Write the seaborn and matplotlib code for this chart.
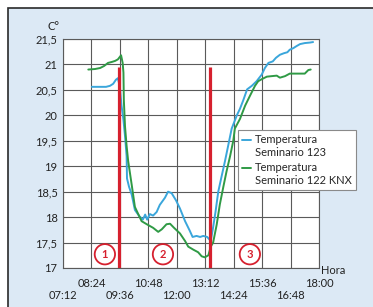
import numpy as np
import pandas as pd
import matplotlib.pyplot as plt
import seaborn as sns
from matplotlib.patches import Rectangle
from matplotlib.legend_handler import HandlerLine2D

# ---- data ----
blue_time = ['08:25', '08:46', '09:01', '09:11', '09:19', '09:26', '09:31', '09:36', '09:40',
             '09:45', '09:49', '09:53', '09:54', '09:59', '10:06', '10:14', '10:25', '10:34',
             '10:40', '10:45', '10:52', '11:00', '11:09', '11:17', '11:30', '11:38', '11:47',
             '11:58', '12:08', '12:21', '12:33', '12:40', '12:50', '12:59', '13:07', '13:17',
             '13:26', '13:32', '13:38', '13:45', '13:54', '14:02', '14:10', '14:19', '14:32',
             '14:40', '14:48', '14:58', '15:10', '15:22', '15:35', '15:43', '15:52', '16:03',
             '16:11', '16:21', '16:31', '16:40', '16:46', '16:55', '17:03', '17:12', '17:24',
             '17:37', '17:45']
blue_temp = [20.56, 20.56, 20.56, 20.58, 20.62, 20.70, 20.73, 20.55, 20.20,
             19.91, 19.59, 19.20, 18.76, 18.60, 18.44, 18.14, 18.02, 17.95,
             18.05, 17.95, 18.06, 18.03, 18.10, 18.24, 18.38, 18.50, 18.47,
             18.33, 18.17, 17.92, 17.73, 17.61, 17.63, 17.61, 17.63, 17.61,
             17.53, 17.80, 18.10, 18.50, 18.82, 19.10, 19.40, 19.74, 20.00,
             20.13, 20.29, 20.51, 20.58, 20.67, 20.80, 20.93, 21.03, 21.06,
             21.13, 21.19, 21.22, 21.24, 21.29, 21.32, 21.36, 21.40, 21.42,
             21.43, 21.44]

green_time = ['08:16', '08:33', '08:46', '08:56', '09:06', '09:16', '09:24', '09:31', '09:39',
              '09:43', '09:45', '09:46', '09:49', '09:53', '09:57', '10:06', '10:14', '10:23',
              '10:31', '10:44', '11:00', '11:13', '11:22', '11:34', '11:43', '11:53', '12:08',
              '12:21', '12:29', '12:42', '12:54', '13:03', '13:11', '13:20', '13:26', '13:32',
              '13:41', '13:49', '13:58', '14:06', '14:15', '14:23', '14:27', '14:40', '14:53',
              '15:05', '15:18', '15:26', '15:35', '15:48', '16:00', '16:13', '16:21', '16:34',
              '16:46', '17:03', '17:24', '17:33', '17:39']
green_temp = [20.90, 20.91, 20.93, 20.97, 21.03, 21.05, 21.07, 21.10, 21.18,
              21.03, 20.84, 20.30, 19.78, 19.40, 19.10, 18.63, 18.20, 18.05,
              17.92, 17.86, 17.79, 17.71, 17.76, 17.86, 17.87, 17.79, 17.68,
              17.53, 17.42, 17.36, 17.31, 17.23, 17.21, 17.25, 17.42, 17.50,
              17.85, 18.25, 18.60, 18.90, 19.20, 19.50, 19.74, 19.93, 20.19,
              20.38, 20.58, 20.67, 20.71, 20.76, 20.77, 20.78, 20.74, 20.77,
              20.82, 20.82, 20.82, 20.89, 20.90]

series_names = ['Temperatura\nSeminario 123', 'Temperatura\nSeminario 122 KNX']
red_times = ['09:35', '13:23']
red_top = 20.95
phase_labels = ['1', '2', '3']
phase_times = ['08:58', '11:25', '15:05']
phase_temp = 17.27

x_ticks = ['07:12', '08:24', '09:36', '10:48', '12:00', '13:12', '14:24', '15:36', '16:48', '18:00']
y_ticks = [17, 17.5, 18, 18.5, 19, 19.5, 20, 20.5, 21, 21.5]


def to_min(s):
    h, m = s.split(':')
    return int(h) * 60 + int(m)


df = pd.concat([
    pd.DataFrame({'t': [to_min(s) for s in blue_time], 'temp': blue_temp, 'serie': series_names[0]}),
    pd.DataFrame({'t': [to_min(s) for s in green_time], 'temp': green_temp, 'serie': series_names[1]}),
])

sns.set_theme(style='white')
plt.rcParams['font.family'] = ['Lato', 'DejaVu Sans']

BG = '#dce9f5'
GRID = '#5a5a5a'
RED = '#d6202e'
palette = {series_names[0]: '#3aa6db', series_names[1]: '#2f9a45'}

fig = plt.figure(figsize=(3.73, 3.07), dpi=100, facecolor='white')
fig.add_artist(Rectangle((7.5 / 373, -0.1), 1.2, 1.1 - 8 / 307, transform=fig.transFigure,
                         facecolor=BG, edgecolor='#2a2a2a', lw=1.2, zorder=-1))

ax = fig.add_axes([63 / 373, 39 / 307, 256 / 373, 229 / 307])
ax.set_facecolor('white')

sns.lineplot(data=df, x='t', y='temp', hue='serie', palette=palette, estimator=None,
             sort=False, lw=1.4, legend=False, ax=ax, zorder=3)

ax.vlines([to_min(s) for s in red_times], 17, red_top, color=RED, lw=2.3, zorder=4)

# circled phase numbers
for lab, t in zip(phase_labels, phase_times):
    ax.text(to_min(t), phase_temp, lab, ha='center', va='center', fontsize=8, color=RED,
            fontweight='bold', zorder=5,
            bbox=dict(boxstyle='circle,pad=0.42', fc='white', ec=RED, lw=1.3))

xt = [to_min(s) for s in x_ticks]
ax.set_xlim(xt[0], xt[-1])
ax.set_ylim(17, 21.5)
ax.set_xticks(xt[1::2])
ax.set_xticklabels(x_ticks[1::2])
ax.set_xticks(xt[0::2], minor=True)
ax.set_xticklabels(x_ticks[0::2], minor=True)
ax.set_yticks(y_ticks)
ax.set_yticklabels([f'{v:g}'.replace('.', ',') for v in y_ticks])
ax.tick_params(axis='both', which='both', length=0, labelsize=8, colors='#222222')
ax.tick_params(axis='x', which='major', pad=7.5)
ax.tick_params(axis='x', which='minor', pad=15.5)
ax.tick_params(axis='y', pad=4)
ax.grid(True, which='both', color=GRID, lw=0.8)
ax.set_axisbelow(True)
for sp in ax.spines.values():
    sp.set_color(GRID)
    sp.set_linewidth(0.8)
ax.set_xlabel('')
ax.set_ylabel('')

fig.text(60 / 373, 1 - 27 / 307, 'C°', ha='right', va='center', fontsize=8, color='#222222')
fig.text(321 / 373, 1 - 271 / 307, 'Hora', ha='left', va='center', fontsize=8, color='#222222')


class FirstLineHandler(HandlerLine2D):
    # put the legend line next to the first text line
    def create_artists(self, legend, orig_handle, xdescent, ydescent, width, height, fontsize, trans):
        arts = super().create_artists(legend, orig_handle, xdescent, ydescent, width, height,
                                      fontsize, trans)
        for a in arts:
            a.set_ydata(np.asarray(a.get_ydata()) + 0.6 * fontsize)
        return arts


leg = ax.legend(handles=ax.lines[:2], labels=series_names, fontsize=8, loc='upper left',
                bbox_to_anchor=(238 / 373, 1 - 130 / 307), bbox_transform=fig.transFigure,
                borderaxespad=0, frameon=True, fancybox=False, framealpha=1,
                edgecolor='#8a8a8a', handlelength=0.8, handletextpad=0.4, labelspacing=0.4,
                borderpad=0.35, handler_map={ax.lines[0]: FirstLineHandler(),
                                             ax.lines[1]: FirstLineHandler()})
leg.get_frame().set_linewidth(0.8)
leg.set_zorder(6)

fig.savefig('out.png', dpi=100, facecolor=fig.get_facecolor())
